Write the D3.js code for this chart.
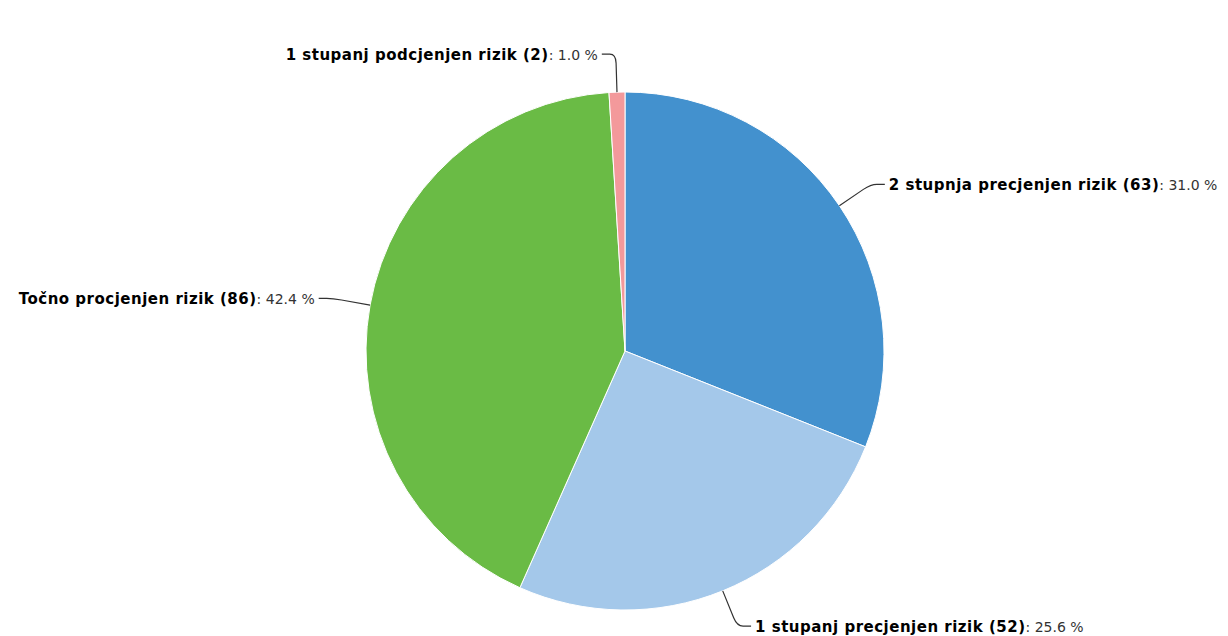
<!DOCTYPE html>
<html>
<head>
<meta charset="utf-8">
<script src="https://cdn.jsdelivr.net/npm/d3@7"></script>
<style>
  body { margin: 0; background: #fff; }
  svg { display: block; }
</style>
</head>
<body>
<div id="chart"></div>
<script>
// Data
const categories = [
  '2 stupnja precjenjen rizik',
  '1 stupanj precjenjen rizik',
  'Točno procjenjen rizik',
  '1 stupanj podcjenjen rizik'
];
const counts = [63, 52, 86, 2];
const colors = ['#4391ce', '#a4c8ea', '#6abb45', '#f3999b'];

const width = 1228;
const height = 636;
const cx = 625, cy = 351, radius = 259;

const svg = d3.select('#chart')
  .append('svg')
  .attr('width', width)
  .attr('height', height);

const g = svg.append('g')
  .attr('transform', `translate(${cx},${cy})`);

const total = d3.sum(counts);
const data = categories.map((c, i) => ({ name: c, value: counts[i], color: colors[i] }));

const pie = d3.pie()
  .value(d => d.value)
  .sort(null);

const arc = d3.arc()
  .innerRadius(0)
  .outerRadius(radius);

const arcs = pie(data);

// Slices
g.selectAll('.slice')
  .data(arcs)
  .enter()
  .append('path')
  .attr('class', 'slice')
  .attr('d', arc)
  .attr('fill', d => d.data.color)
  .attr('stroke', '#fff')
  .attr('stroke-width', 1);

// Helper: polar point, angle measured clockwise from 12 o'clock
function polar(r, a) {
  return [r * Math.sin(a), -r * Math.cos(a)];
}

const elbowR = radius + 38;
const tail = 14;

// Connectors and labels
arcs.forEach(d => {
  const mid = (d.startAngle + d.endAngle) / 2;
  const right = Math.sin(mid) >= 0;
  const edge = polar(radius, mid);
  const elbow = polar(elbowR, mid);
  const pre = polar(elbowR - 9, mid);
  const end = [elbow[0] + (right ? tail : -tail), elbow[1]];
  const p = d3.path();
  p.moveTo(edge[0], edge[1]);
  p.lineTo(pre[0], pre[1]);
  p.quadraticCurveTo(elbow[0], elbow[1], elbow[0] + (right ? 6 : -6), elbow[1]);
  p.lineTo(end[0], end[1]);
  g.append('path')
    .attr('d', p.toString())
    .attr('fill', 'none')
    .attr('stroke', '#333')
    .attr('stroke-width', 1.2);

  const label = g.append('text')
    .attr('x', end[0] + (right ? 4 : -4))
    .attr('y', elbow[1])
    .attr('dy', '0.35em')
    .attr('text-anchor', right ? 'start' : 'end')
    .style('font-family', '"DejaVu Sans", Verdana, sans-serif')
    .style('fill', '#000');

  label.append('tspan')
    .style('font-weight', 'bold')
    .style('font-size', '15px')
    .style('letter-spacing', '0.5px')
    .text(`${d.data.name} (${d.data.value})`);
  label.append('tspan')
    .style('fill', '#333')
    .style('font-size', '14px')
    .text(`: ${(d.data.value / total * 100).toFixed(1)} %`);
});
</script>
</body>
</html>
